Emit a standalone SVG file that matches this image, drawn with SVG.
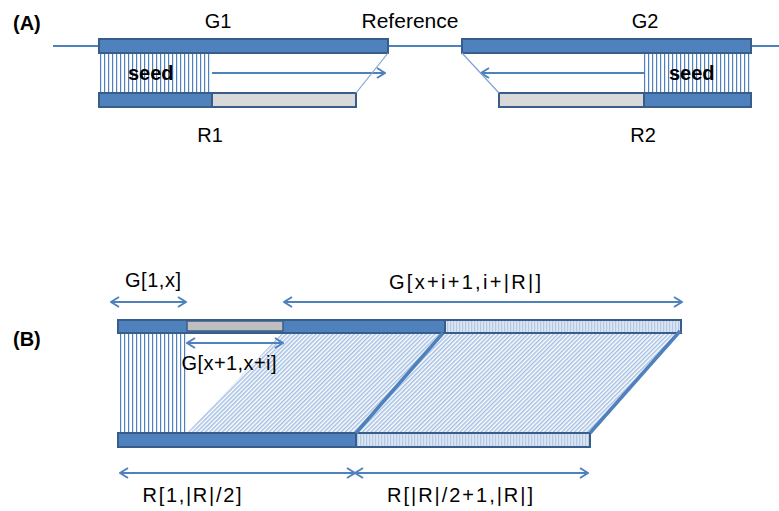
<svg xmlns="http://www.w3.org/2000/svg" width="779" height="511" viewBox="0 0 779 511">
  <style>
    text { font-family: "Liberation Sans", Arial, sans-serif; fill: #000; }
    .lbl { font-size: 20px; }
    .tag { font-size: 20px; font-weight: bold; }
    .seed { font-size: 20px; font-weight: bold; }
    .bar { fill: #4F81BD; stroke: #385D8A; stroke-width: 2; }
    .gray { fill: #D9D9D9; stroke: #385D8A; stroke-width: 2; }
    .gray2 { fill: #BFBFBF; stroke: #385D8A; stroke-width: 1.5; }
    .light { fill: url(#dots); stroke: #385D8A; stroke-width: 2; }
    .ln { stroke: #4F81BD; stroke-width: 2; fill: none; }
    .thin { stroke: #7EA3D4; stroke-width: 1.2; fill: none; }
    .arr { stroke: #4F81BD; stroke-width: 2; fill: none; marker-end: url(#head); }
    .darr { stroke: #4F81BD; stroke-width: 2; fill: none; marker-start: url(#head); marker-end: url(#head); }
    .edge { stroke: #4F81BD; stroke-width: 3.5; fill: none; }
  </style>
  <defs>
    <marker id="head" viewBox="0 0 10 12" refX="9" refY="6" markerWidth="10" markerHeight="12" markerUnits="userSpaceOnUse" orient="auto-start-reverse">
      <path d="M1,1 L9,6 L1,11" fill="none" stroke="#4F81BD" stroke-width="2"/>
    </marker>
    <pattern id="vlines" width="4" height="4" patternUnits="userSpaceOnUse">
      <rect width="4" height="4" fill="#fff"/>
      <rect x="0" width="1.2" height="4" fill="#4F81BD"/>
    </pattern>
    <pattern id="diag" width="3" height="3" patternUnits="userSpaceOnUse" patternTransform="rotate(45)">
      <rect width="3" height="3" fill="#fff"/>
      <rect width="1.5" height="3" fill="#A3BEE2"/>
    </pattern>
    <pattern id="dots" width="3" height="3" patternUnits="userSpaceOnUse">
      <rect width="3" height="3" fill="#DCE6F2"/>
      <rect width="1.2" height="3" fill="#B4C9E6"/>
    </pattern>
  </defs>

  <!-- Panel A -->
  <text class="tag" x="13" y="30">(A)</text>
  <g id="reference-line">
    <line class="ln" x1="53" y1="46" x2="779" y2="46"/>
    <text class="lbl" x="410" y="28" text-anchor="middle" textLength="97" lengthAdjust="spacingAndGlyphs">Reference</text>
  </g>

  <g id="G1">
    <rect x="99" y="53" width="113" height="40" fill="url(#vlines)"/>
    <rect class="bar" x="99" y="39" width="289" height="14"/>
    <text class="lbl" x="218" y="28" text-anchor="middle">G1</text>
    <text class="seed" x="128" y="80">seed</text>
  </g>
  <g id="R1">
    <rect class="gray" x="212" y="93" width="144" height="14"/>
    <rect class="bar" x="99" y="93" width="113" height="14"/>
    <text class="lbl" x="210" y="142" text-anchor="middle">R1</text>
  </g>

  <g id="G2">
    <rect x="644" y="53" width="107" height="40" fill="url(#vlines)"/>
    <rect class="bar" x="462" y="39" width="289" height="14"/>
    <text class="lbl" x="645" y="28" text-anchor="middle">G2</text>
    <text class="seed" x="669" y="80">seed</text>
  </g>
  <g id="R2">
    <rect class="gray" x="499" y="93" width="145" height="14"/>
    <rect class="bar" x="644" y="93" width="107" height="14"/>
    <text class="lbl" x="643" y="142" text-anchor="middle">R2</text>
  </g>

  <g id="connectors-A">
    <line class="arr" x1="212" y1="73" x2="385" y2="73"/>
    <line class="thin" x1="356" y1="93" x2="388" y2="53"/>
    <line class="arr" x1="644" y1="73" x2="481" y2="73"/>
    <line class="thin" x1="499" y1="93" x2="462" y2="53"/>
  </g>

  <!-- Panel B -->
  <text class="tag" x="13" y="346">(B)</text>

  <g id="alignment-B">
    <rect x="118" y="333" width="68" height="100" fill="url(#vlines)"/>
    <polygon points="187,433 282,333 443,333 356,433" fill="url(#diag)"/>
    <polygon points="356,433 443,333 681,333 590,433" fill="url(#diag)"/>
  </g>

  <g id="G">
    <rect class="bar" x="118" y="320" width="327" height="13"/>
    <rect class="gray2" x="187" y="321" width="96" height="10"/>
    <rect class="light" x="445" y="320" width="236" height="13"/>
  </g>

  <g id="R">
    <rect class="bar" x="118" y="433" width="238" height="14"/>
    <rect class="light" x="356" y="433" width="234" height="14"/>
  </g>

  <g id="connectors-B">
    <line class="edge" x1="356" y1="433" x2="443" y2="333"/>
    <line class="edge" x1="590" y1="433" x2="680" y2="331"/>
    <line class="darr" x1="111" y1="302" x2="186" y2="302"/>
    <line class="darr" x1="284" y1="302" x2="682" y2="302"/>
    <line class="darr" x1="187" y1="343" x2="283" y2="343"/>
    <line class="darr" x1="120" y1="473" x2="355" y2="473"/>
    <line class="darr" x1="355" y1="473" x2="588" y2="473"/>
  </g>

  <g id="labels-B">
    <text class="lbl" x="153" y="287" text-anchor="middle" textLength="56" lengthAdjust="spacing">G[1,x]</text>
    <text class="lbl" x="465" y="289" text-anchor="middle" textLength="152" lengthAdjust="spacing">G[x+i+1,i+|R|]</text>
    <text class="lbl" x="229" y="370" text-anchor="middle" textLength="95" lengthAdjust="spacing">G[x+1,x+i]</text>
    <text class="lbl" x="192" y="502" text-anchor="middle" textLength="99" lengthAdjust="spacing">R[1,|R|/2]</text>
    <text class="lbl" x="460" y="502" text-anchor="middle" textLength="146" lengthAdjust="spacing">R[|R|/2+1,|R|]</text>
  </g>
</svg>
